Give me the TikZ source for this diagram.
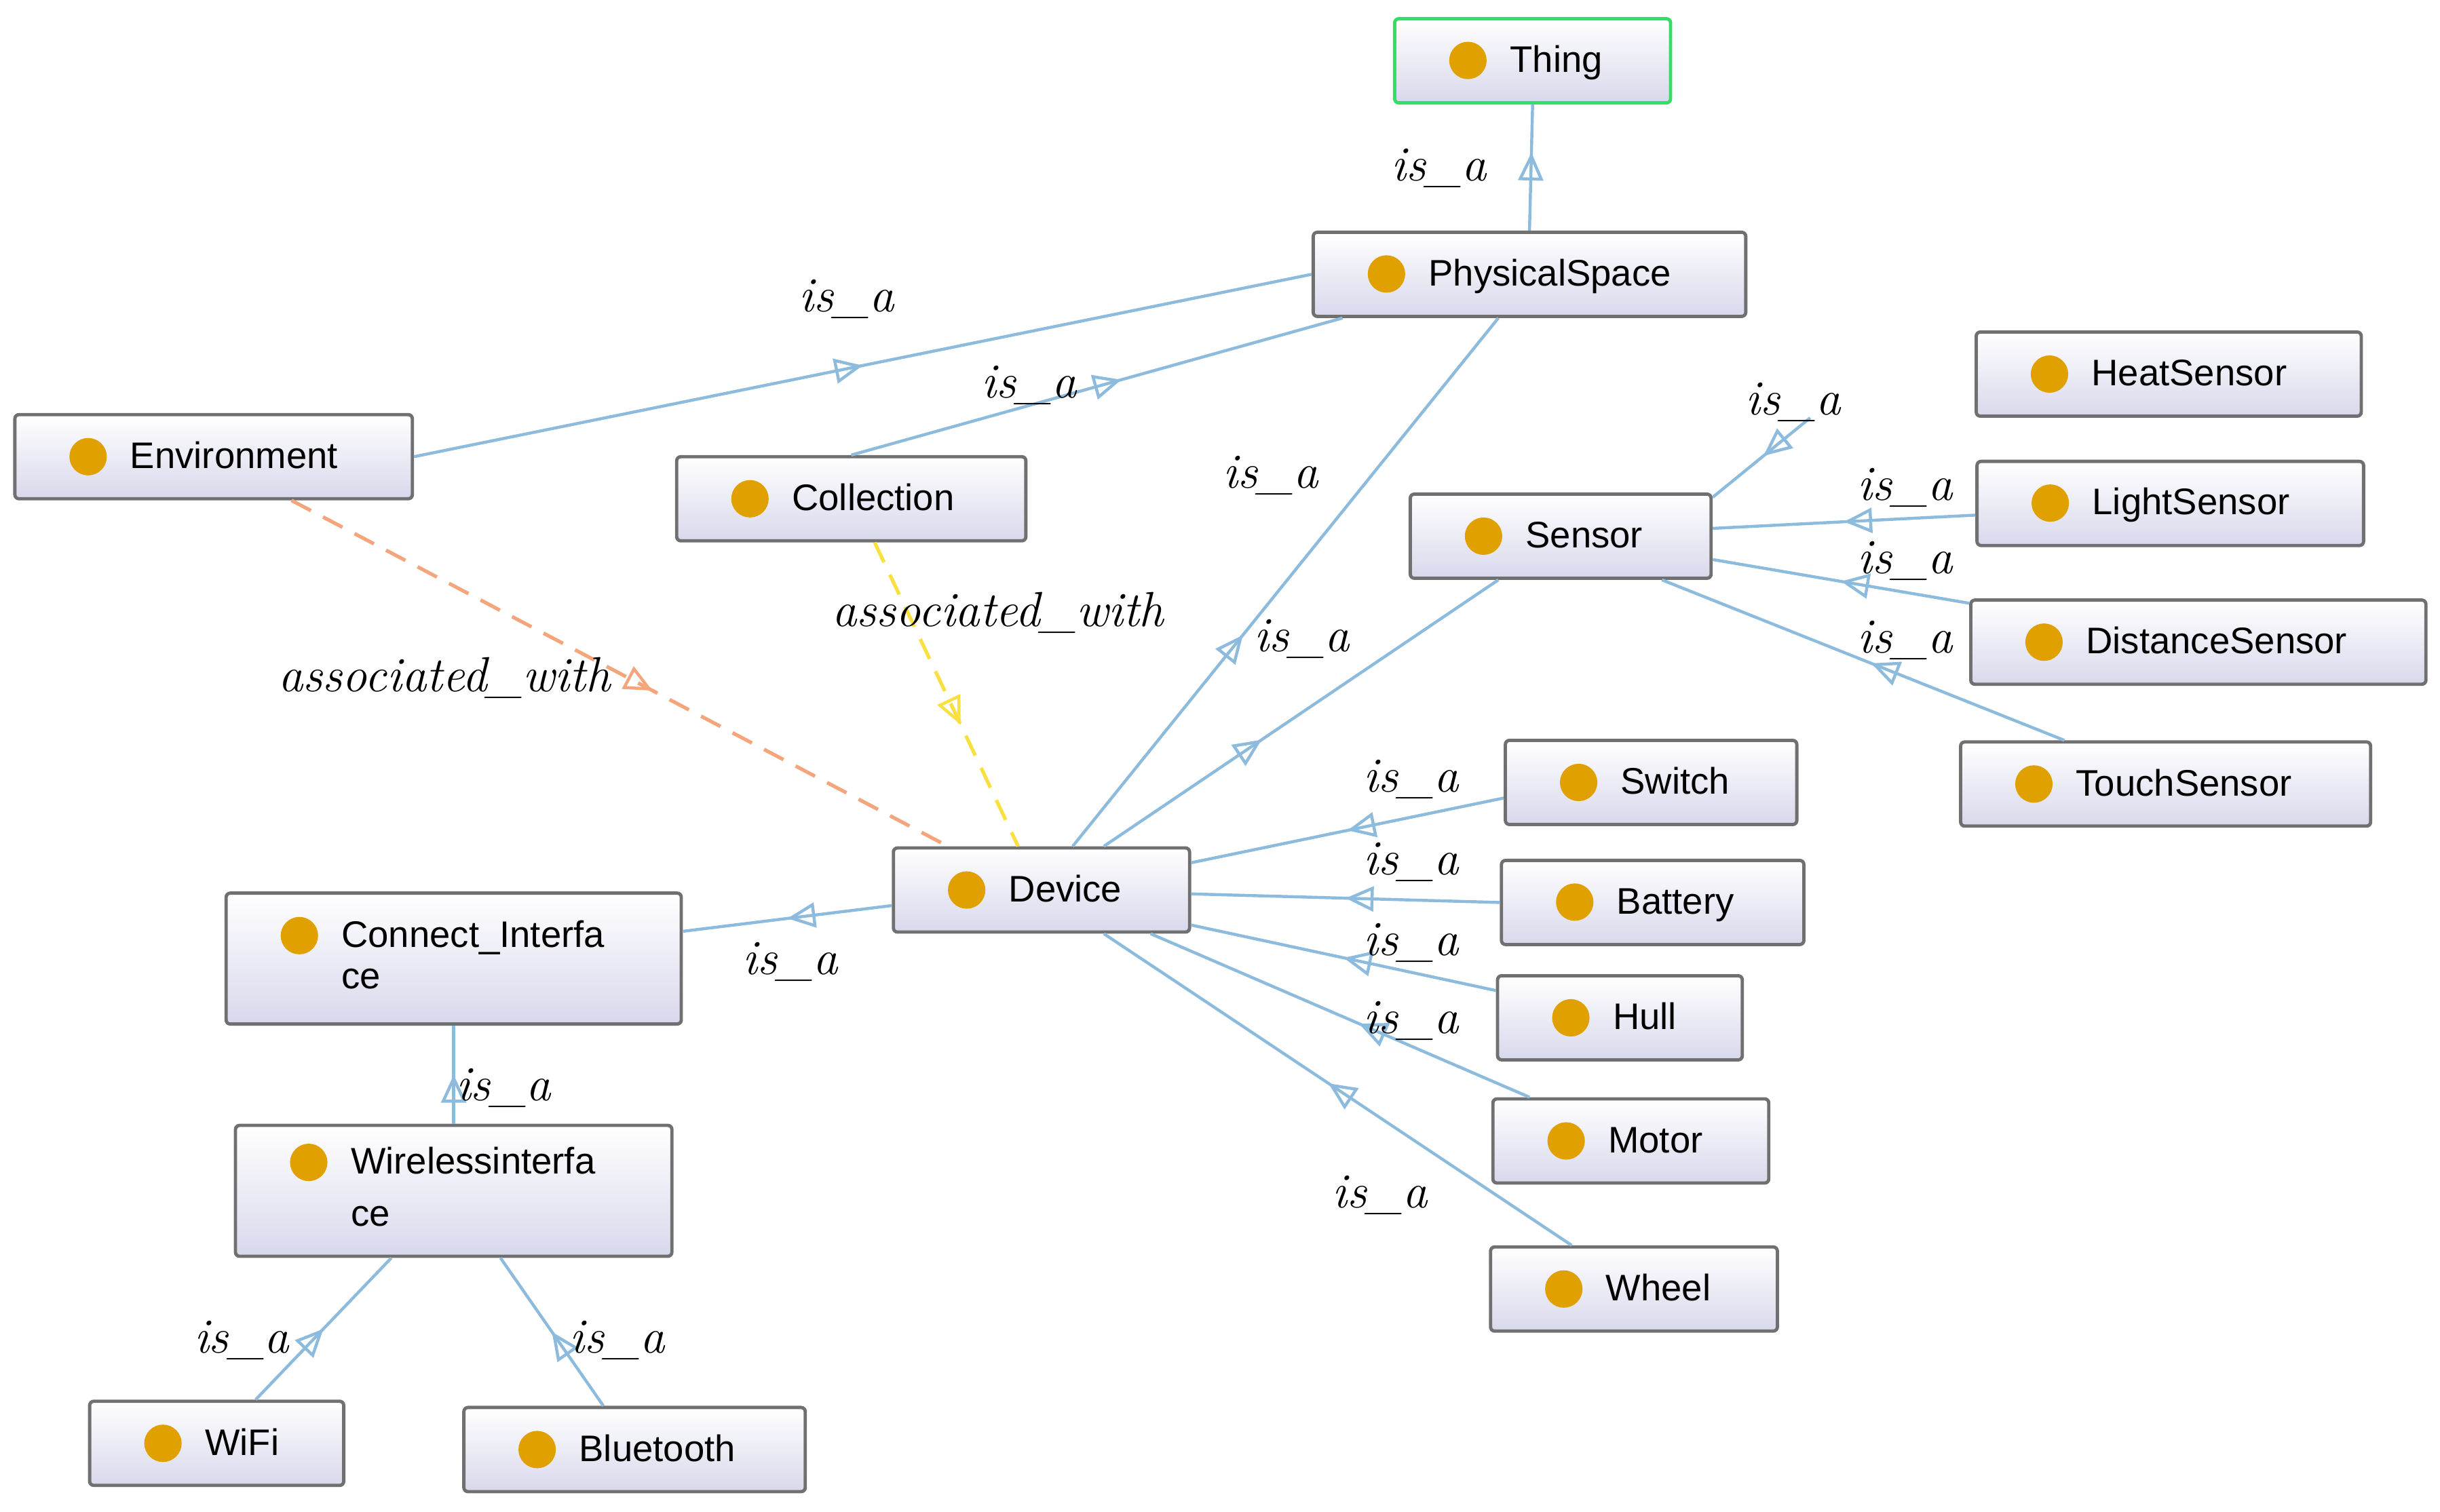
\documentclass[tikz,border=0pt]{standalone}
\usepackage{fontspec}
\setmainfont{Liberation Sans}
\newfontfamily\lmfont{Latin Modern Roman}
\usetikzlibrary{arrows.meta, decorations.markings, shadings}

\definecolor{edgeblue}{HTML}{8DBBDD}
\definecolor{dotorange}{HTML}{E0A000}
\definecolor{boxgray}{HTML}{707070}
\definecolor{boxlav}{HTML}{D8D8EC}
\definecolor{assocorange}{HTML}{F4A57C}
\definecolor{assocyellow}{HTML}{F8E040}
\definecolor{thinggreen}{HTML}{33DD66}

\newcommand{\clsdot}{\tikz[baseline=-0.6ex]\fill[dotorange] (0,0) circle (0.24cm);\hspace{0.3cm}}

\begin{document}
\begin{tikzpicture}[x=0.02cm, y=-0.02cm,
    % Class box style
    cls/.style={
        rectangle,
        rounded corners=1.5pt,
        draw=boxgray,
        line width=1.2pt,
        top color=white,
        bottom color=boxlav,
        text width=#1,
        align=left,
        inner xsep=0.7cm,
        minimum height=1.08cm,
        font=\fontsize{13.5}{17}\selectfont
    },
    cls/.default=3cm,
    % is_a edge with open triangle in the middle
    isa/.style={
        draw=edgeblue,
        line width=1.1pt,
        postaction={decorate},
        decoration={markings,
            mark=at position #1 with {\arrow[edgeblue, line width=1.1pt]{Triangle[open, length=0.36cm, width=0.32cm]}}}
    },
    isa/.default=0.5,
    assoc/.style={
        dashed,
        dash pattern=on 8pt off 5pt,
        line width=1.3pt,
        postaction={decorate},
        decoration={markings,
            mark=at position #1 with {\arrow[solid, line width=1.1pt]{Triangle[open, length=0.36cm, width=0.32cm]}}}
    },
    rel/.style={font=\lmfont\itshape\fontsize{18}{20}\selectfont}
]
\useasboundingbox (0,0) rectangle (1565,970);

% === Classes ===
\node[cls=2.14cm, draw=thinggreen] (thing) at (983,39) {\clsdot Thing};
\node[cls=4.15cm] (physical) at (981,176) {\clsdot PhysicalSpace};
\node[cls=3.7cm] (environment) at (137,293) {\clsdot Environment};
\node[cls=3.08cm] (collection) at (546,320) {\clsdot Collection};
\node[cls=2.46cm] (sensor) at (1001,344) {\clsdot Sensor};
\node[cls=3.54cm] (heat) at (1391,240) {\clsdot HeatSensor};
\node[cls=3.56cm] (light) at (1392,323) {\clsdot LightSensor};
\node[cls=4.44cm] (distance) at (1410,412) {\clsdot DistanceSensor};
\node[cls=3.86cm] (touch) at (1389,503) {\clsdot TouchSensor};
\node[cls=2.34cm] (switch) at (1059,502) {\clsdot Switch};
\node[cls=2.48cm] (battery) at (1060,579) {\clsdot Battery};
\node[cls=1.74cm] (hull) at (1039,653) {\clsdot Hull};
\node[cls=2.14cm] (motor) at (1046,732) {\clsdot Motor};
\node[cls=2.28cm] (wheel) at (1048,827) {\clsdot Wheel};
\node[cls=2.4cm] (device) at (668,571) {\clsdot Device};
\node[cls=4.44cm, minimum height=1.68cm] (connect) at (291,615)
    {\clsdot\begin{tabular}[t]{@{}l@{}}Connect\_Interfa\\[-2pt]ce\end{tabular}};
\node[cls=4.2cm, minimum height=1.68cm] (wireless) at (291,764)
    {\clsdot\begin{tabular}[t]{@{}l@{}}Wirelessinterfa\\[2pt]ce\end{tabular}};
\node[cls=1.86cm] (wifi) at (139,926) {\clsdot WiFi};
\node[cls=2.98cm] (bluetooth) at (407,930) {\clsdot Bluetooth};

% === is_a edges ===
\draw[isa=0.62] (physical.north) -- (thing.south);
\draw[isa] (environment.east) -- (physical.west);
\draw[isa=0.55] (collection.north) -- ([xshift=-2.4cm]physical.south);
\draw[isa=0.4] ([xshift=0.4cm]device.north) -- ([xshift=-0.4cm]physical.south);
\draw[isa=0.4] ([xshift=0.8cm]device.north) -- ([xshift=-0.8cm]sensor.south);
\draw[isa=0.48] ([xshift=-4.6cm]heat.south) -- ([yshift=0.5cm]sensor.east);
\draw[isa=0.5] ([yshift=-0.15cm]light.west) -- ([yshift=0.1cm]sensor.east);
\draw[isa=0.5] ([yshift=0.5cm]distance.west) -- ([yshift=-0.3cm]sensor.east);
\draw[isa=0.48] ([xshift=-1.3cm]touch.north) -- ([xshift=1.3cm]sensor.south);
\draw[isa=0.5] ([yshift=-0.2cm]switch.west) -- ([yshift=0.35cm]device.east);
\draw[isa=0.5] (battery.west) -- ([yshift=-0.05cm]device.east);
\draw[isa=0.5] ([yshift=0.35cm]hull.west) -- ([yshift=-0.45cm]device.east);
\draw[isa=0.45] ([xshift=-1.3cm]motor.north) -- ([xshift=1.4cm]device.south);
\draw[isa=0.52] ([xshift=-0.8cm]wheel.north) -- ([xshift=0.8cm]device.south);
\draw[isa=0.5] ([yshift=-0.2cm]device.west) -- ([yshift=0.35cm]connect.east);
\draw[isa=0.5] (wireless.north) -- (connect.south);
\draw[isa=0.5] ([xshift=0.5cm]wifi.north) -- ([xshift=-0.8cm]wireless.south);
\draw[isa=0.5] ([xshift=-0.4cm]bluetooth.north) -- ([xshift=0.6cm]wireless.south);

% === associated_with edges ===
\draw[assoc=0.55, draw=assocorange] ([xshift=1cm]environment.south) -- ([xshift=-1.2cm]device.north);
\draw[assoc=0.6, draw=assocyellow] ([xshift=0.3cm]collection.south) -- ([xshift=-0.3cm]device.north);

% === Labels ===
\node[rel] (l1) at (923,108) {is\_a};
\node[rel] (l2) at (543,192) {is\_a};
\node[rel] (l3) at (660,247) {is\_a};
\node[rel] (l4) at (815,305) {is\_a};
\node[rel] (l5) at (835,410) {is\_a};
\node[rel] (l6) at (1150,258) {is\_a};
\node[rel] (l7) at (1222,313) {is\_a};
\node[rel] (l8) at (1222,360) {is\_a};
\node[rel] (l9) at (1222,411) {is\_a};
\node[rel] (l10) at (905,500) {is\_a};
\node[rel] (l11) at (905,553) {is\_a};
\node[rel] (l12) at (905,605) {is\_a};
\node[rel] (l13) at (905,655) {is\_a};
\node[rel] (l14) at (885,767) {is\_a};
\node[rel] (l15) at (507,617) {is\_a};
\node[rel] (l16) at (323,698) {is\_a};
\node[rel] (l17) at (155,860) {is\_a};
\node[rel] (l18) at (396,860) {is\_a};
\node[rel] (a1) at (285,435) {associated\_with};
\node[rel] (a2) at (640,393) {associated\_with};

\end{tikzpicture}
\end{document}
